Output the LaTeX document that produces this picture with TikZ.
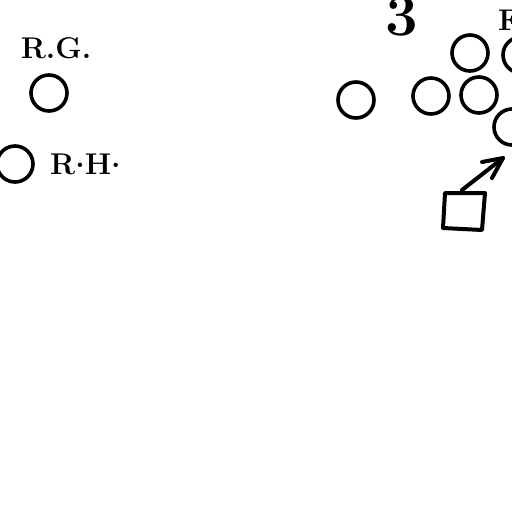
\documentclass[tikz,border=0pt]{standalone}
\begin{document}
\begin{tikzpicture}[x=1pt,y=-1pt,
  player/.style={circle,draw=black,line width=3.6pt,minimum size=36pt,inner sep=0pt},
  lbl/.style={font=\fontsize{30}{30}\selectfont\bfseries,inner sep=0pt},
  hand/.style={draw=black,line width=4pt,line cap=round,line join=round}]
\useasboundingbox (0,0) rectangle (512,512);
\clip (0,0) rectangle (512,512);
\node[lbl] (rgl) at (56,48) {R.G.};
\node[player] (rg) at (49,93) {};
\node[player] (rh) at (15,164) {};
\node[lbl,anchor=west] (rhl) at (50,164) {R\raisebox{7pt}{.}H\raisebox{7pt}{.}};
\node[font=\fontsize{58}{58}\selectfont\bfseries,inner sep=0pt] (three) at (402,17) {3};
\node[lbl,anchor=west] (fbl) at (498,20) {F.B.};
\node[player] (p1) at (470,53) {};
\node[player] (p2) at (521,55) {};
\node[player] (p3) at (356,100) {};
\node[player] (p4) at (431,96) {};
\node[player] (p5) at (479,95) {};
\node[player] (p6) at (512,127) {};
\coordinate (sqtl) at (445,193);
\coordinate (sqtr) at (485,193);
\coordinate (sqbr) at (482,230);
\coordinate (sqbl) at (443,228);
\draw[hand] (sqtl) -- (sqtr) -- (sqbr) -- (sqbl) -- cycle;
\coordinate (tip) at (503,158);
\coordinate (base) at (462,190);
\coordinate (h1) at (482,162);
\coordinate (h2) at (492,178);
\draw[hand] (base) -- (tip);
\draw[hand] (h1) -- (tip) -- (h2);
\end{tikzpicture}
\end{document}
